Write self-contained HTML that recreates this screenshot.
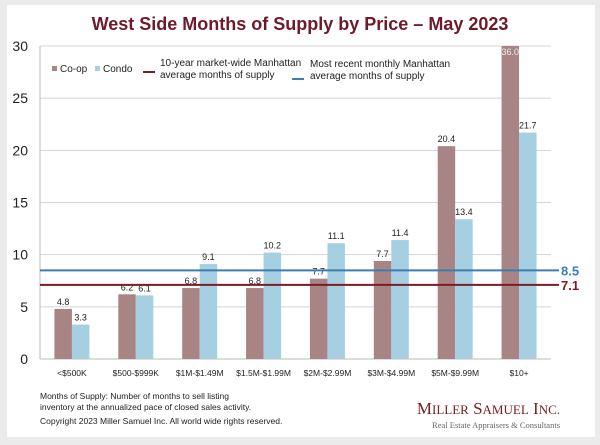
<!DOCTYPE html>
<html><head><meta charset="utf-8"><style>
body{margin:0;background:#ebebeb;width:600px;height:445px;overflow:hidden;font-family:"Liberation Sans",Arial,sans-serif}
#panel{position:absolute;left:7px;top:5px;width:588px;height:432px;background:#fff}
svg{position:absolute;left:0;top:0}
</style></head><body>
<div id="panel"></div>
<svg id="c" width="600" height="445">
<text x="300" y="30" text-anchor="middle" font-size="18" font-weight="bold" fill="#6e1a2b">West Side Months of Supply by Price – May 2023</text>
<g font-size="10" fill="#222">
<rect x="52" y="66" width="5" height="5" fill="#a88484"/>
<text x="60" y="72">Co-op</text>
<rect x="95" y="66" width="5" height="5" fill="#a6cfe2"/>
<text x="103" y="72">Condo</text>
<line x1="143" y1="72" x2="155" y2="72" stroke="#7a1c22" stroke-width="2"/>
<text x="160" y="66">10-year market-wide Manhattan</text>
<text x="160" y="78">average months of supply</text>
<line x1="292" y1="79" x2="304" y2="79" stroke="#3b7db5" stroke-width="2"/>
<text x="310" y="67">Most recent monthly Manhattan</text>
<text x="310" y="79">average months of supply</text>
</g>
<g id="plot"></g>
<g font-size="8.5" fill="#222">
<text x="40" y="399">Months of Supply: Number of months to sell listing</text>
<text x="40" y="410">inventory at the annualized pace of closed sales activity.</text>
<text x="40" y="424">Copyright 2023 Miller Samuel Inc.  All world wide rights reserved.</text>
</g>
<text x="560" y="414" text-anchor="end" font-family="Liberation Serif,serif" font-size="17" fill="#7a1c22">M<tspan font-size="13">ILLER</tspan> S<tspan font-size="13">AMUEL</tspan> I<tspan font-size="13">NC.</tspan></text>
<text x="560" y="428" text-anchor="end" font-family="Liberation Serif,serif" font-size="8.5" fill="#666">Real Estate Appraisers &amp; Consultants</text>
</svg>
<script>
const categories=["<$500K","$500-$999K","$1M-$1.49M","$1.5M-$1.99M","$2M-$2.99M","$3M-$4.99M","$5M-$9.99M","$10+"];
const coop=[4.8,6.2,6.8,6.8,7.7,9.4,20.4,36.0];
const coopLabels=["4.8","6.2","6.8","6.8","7.7","7.7","20.4","36.0"];
const condo=[3.3,6.1,9.1,10.2,11.1,11.4,13.4,21.7];
const yTicks=[0,5,10,15,20,25,30];
const tenYearAvg=7.1;
const recentAvg=8.5;
const NS="http://www.w3.org/2000/svg";
const X0=40,X1=551,Y0=359,Y1=46,YMAX=30;
const bw=(X1-X0)/categories.length;
const y=v=>Y0-Math.min(v,YMAX)/YMAX*(Y0-Y1);
const g=document.getElementById('plot');
function mk(t,a){const e=document.createElementNS(NS,t);for(const k in a)e.setAttribute(k,a[k]);g.appendChild(e);return e;}
yTicks.forEach(t=>{
 if(t>0){const l=mk('line',{x1:X0,x2:X1,y1:y(t),y2:y(t),stroke:'#d4d4d4'});
 
 }
 const tx=mk('text',{x:X0-12,y:y(t)+5,'text-anchor':'end','font-size':14,fill:'#222'});tx.textContent=t;
 
 
});
const ax=mk('line',{x1:X0,x2:X0,y1:Y1,y2:Y0,stroke:'#bbb'});


const xa=mk('line',{x1:X0,x2:X1,y1:Y0,y2:Y0,stroke:'#bbb'});


categories.forEach((c,i)=>{
 const cx=X0+bw*(i+0.5),w=17.5;
 const r1=mk('rect',{x:cx-w,y:y(coop[i]),width:w,height:Y0-y(coop[i]),fill:'#a88484'});
 
 
 const r2=mk('rect',{x:cx,y:y(condo[i]),width:w,height:Y0-y(condo[i]),fill:'#a6cfe2'});
 
 
 const clipped=coop[i]>YMAX;
 const l1=mk('text',{x:cx-w/2,y:clipped?y(coop[i])+9:y(coop[i])-4,'text-anchor':'middle','font-size':9,fill:clipped?'#eee':'#222'});l1.textContent=coopLabels[i];
 
 
 const l2=mk('text',{x:cx+w/2,y:y(condo[i])-4,'text-anchor':'middle','font-size':9,fill:'#222'});l2.textContent=condo[i].toFixed(1);
 
 
 const xl=mk('text',{x:cx,y:Y0+17,'text-anchor':'middle','font-size':8.5,fill:'#222'});xl.textContent=c;
 
 
});
[[recentAvg,'#3b7db5','recent-avg'],[tenYearAvg,'#7a1c22','ten-year-avg']].forEach(([v,col,n])=>{
 const l=mk('line',{x1:X0,x2:X1+8,y1:y(v),y2:y(v),stroke:col,'stroke-width':2});
 
 
 const t=mk('text',{x:X1+10,y:y(v)+5,'font-size':13,'font-weight':'bold',fill:col});t.textContent=v.toFixed(1);
 
 
});
</script>
</body></html>
